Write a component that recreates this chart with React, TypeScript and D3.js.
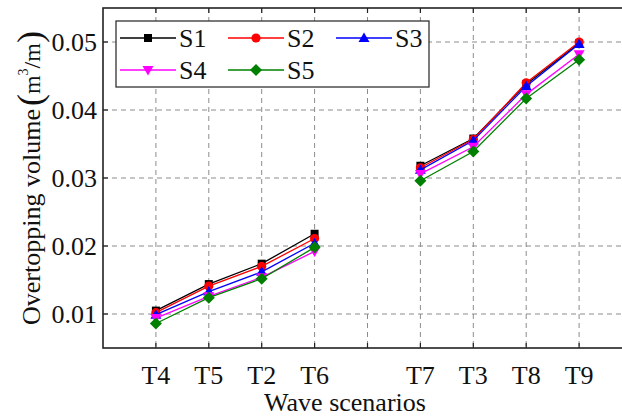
import React from "react";
import * as d3 from "d3";

// Wave scenario categories and their slot positions along the x axis (slot 5 is a spacer)
const categories = ["T4", "T5", "T2", "T6", "T7", "T3", "T8", "T9"];
const slots = [1, 2, 3, 4, 6, 7, 8, 9];
const gridSlots = [1, 2, 3, 4, 5, 6, 7, 8, 9];
const yTicks = [0.01, 0.02, 0.03, 0.04, 0.05];
const yTickLabels = ["0.01", "0.02", "0.03", "0.04", "0.05"];

// Overtopping volume (m3/m) per scenario for each series
const s1 = [0.0105, 0.0144, 0.0174, 0.0218, 0.0318, 0.0358, 0.0438, 0.0498];
const s2 = [0.0102, 0.0141, 0.017, 0.0211, 0.0315, 0.0357, 0.044, 0.05];
const s3 = [0.0099, 0.0133, 0.0162, 0.0204, 0.0312, 0.0355, 0.0435, 0.0497];
const s4 = [0.0094, 0.0126, 0.0154, 0.0192, 0.0306, 0.0346, 0.0423, 0.0482];
const s5 = [0.0086, 0.0124, 0.0152, 0.0198, 0.0296, 0.0339, 0.0417, 0.0474];

const seriesNames = ["S1", "S2", "S3", "S4", "S5"];
const seriesValues = [s1, s2, s3, s4, s5];
const seriesColors = ["#000000", "#ff0000", "#0000ff", "#ff00ff", "#008000"];
const seriesMarkers = ["square", "circle", "triangle", "triangleDown", "diamond"];

const W = 622;
const H = 416;
const txt = { fontFamily: "Liberation Serif, Times New Roman, serif" };

const x = d3.scaleLinear().domain([0, 10]).range([103, 632]);
const y = d3.scaleLinear().domain([0.005, 0.055]).range([348, 8]);

function Marker({ kind, cx, cy, color }: { kind: string; cx: number; cy: number; color: string }) {
  if (kind === "square") {
    return <rect x={cx - 4} y={cy - 4} width={8} height={8} fill={color} />;
  }
  if (kind === "circle") {
    return <circle cx={cx} cy={cy} r={4.6} fill={color} />;
  }
  if (kind === "triangle") {
    return <path d={`M${cx},${cy - 5.5}L${cx + 5.5},${cy + 4}L${cx - 5.5},${cy + 4}Z`} fill={color} />;
  }
  if (kind === "triangleDown") {
    return <path d={`M${cx},${cy + 5.5}L${cx + 5.5},${cy - 4}L${cx - 5.5},${cy - 4}Z`} fill={color} />;
  }
  return <path d={`M${cx},${cy - 6}L${cx + 6},${cy}L${cx},${cy + 6}L${cx - 6},${cy}Z`} fill={color} />;
}

export default function App() {
  const [x0, x1] = x.range();
  const [yb, yt] = y.range();
  const line = d3
    .line<[number, number]>()
    .x((d) => x(d[0]))
    .y((d) => y(d[1]));

  const legendCols = [120, 228, 336];
  const legendRows = [38, 70];

  return (
    <div style={{ position: "absolute", left: 0, top: 0 }}>
      <svg width={W} height={H} style={{ display: "block", background: "#fff" }}>
        <defs>
          <clipPath id="plotClip">
            <rect x={x0} y={yt} width={x1 - x0} height={yb - yt} />
          </clipPath>
        </defs>

        {/* grid */}
        <g stroke="#8c8c8c" strokeWidth={1} strokeDasharray="5,4">
          {gridSlots.map((s) => (
            <line key={"gx" + s} x1={x(s)} x2={x(s)} y1={yt} y2={yb} />
          ))}
          {yTicks.map((t) => (
            <line key={"gy" + t} x1={x0} x2={x1} y1={y(t)} y2={y(t)} />
          ))}
        </g>

        {/* inward ticks */}
        <g stroke="#222" strokeWidth={1.2}>
          {gridSlots.map((s) => (
            <g key={"tx" + s}>
              <line x1={x(s)} x2={x(s)} y1={yb} y2={yb - 5} />
              <line x1={x(s)} x2={x(s)} y1={yt} y2={yt + 5} />
            </g>
          ))}
          {yTicks.map((t) => (
            <line key={"ty" + t} x1={x0} x2={x0 + 5} y1={y(t)} y2={y(t)} />
          ))}
        </g>

        {/* series */}
        <g clipPath="url(#plotClip)">
          {seriesValues.map((vals, si) => {
            const pts: [number, number][] = vals.map((v, i) => [slots[i], v]);
            const left = pts.slice(0, 4);
            const right = pts.slice(4);
            return (
              <g key={seriesNames[si]}>
                <path d={line(left) || ""} fill="none" stroke={seriesColors[si]} strokeWidth={1.3} />
                <path d={line(right) || ""} fill="none" stroke={seriesColors[si]} strokeWidth={1.3} />
                {pts.map((p, i) => (
                  <Marker key={i} kind={seriesMarkers[si]} cx={x(p[0])} cy={y(p[1])} color={seriesColors[si]} />
                ))}
              </g>
            );
          })}
        </g>

        {/* frame */}
        <rect x={x0} y={yt} width={x1 - x0} height={yb - yt} fill="none" stroke="#222" strokeWidth={1.6} />

        {/* y tick labels */}
        <g style={txt} fontSize={26} fill="#111" textAnchor="end">
          {yTicks.map((t, i) => (
            <text key={"yl" + t} x={x0 - 6} y={y(t) + 8.5}>
              {yTickLabels[i]}
            </text>
          ))}
        </g>

        {/* x tick labels */}
        <g style={txt} fontSize={26} fill="#111" textAnchor="middle">
          {categories.map((c, i) => (
            <text key={c} x={x(slots[i])} y={yb + 36}>
              {c}
            </text>
          ))}
        </g>

        {/* axis titles */}
        <text x={345} y={411} style={txt} fontSize={26} fill="#111" textAnchor="middle">
          Wave scenarios
        </text>
        <text
          transform={`translate(40,${(yt + yb) / 2}) rotate(-90)`}
          style={txt}
          fontSize={26}
          fill="#111"
          textAnchor="middle"
        >
          <tspan>Overtopping volume</tspan>
          <tspan fontSize={36} dy={2} dx={3}>(</tspan>
          <tspan fontSize={24} dy={-2}>m</tspan>
          <tspan fontSize={14} dy={-12}>3</tspan>
          <tspan fontSize={24} dy={12}>/m</tspan>
          <tspan fontSize={36} dy={2}>)</tspan>
        </text>

        {/* legend */}
        <rect x={116} y={21} width={313} height={66} fill="#fff" stroke="#222" strokeWidth={1.2} />
        {seriesNames.map((name, i) => {
          const lx = legendCols[i % 3];
          const ly = legendRows[Math.floor(i / 3)];
          return (
            <g key={"lg" + name}>
              <line x1={lx} x2={lx + 56} y1={ly} y2={ly} stroke={seriesColors[i]} strokeWidth={1.3} />
              <Marker kind={seriesMarkers[i]} cx={lx + 28} cy={ly} color={seriesColors[i]} />
              <text x={lx + 59} y={ly + 9} style={txt} fontSize={26} fill="#111">
                {name}
              </text>
            </g>
          );
        })}
      </svg>
    </div>
  );
}
